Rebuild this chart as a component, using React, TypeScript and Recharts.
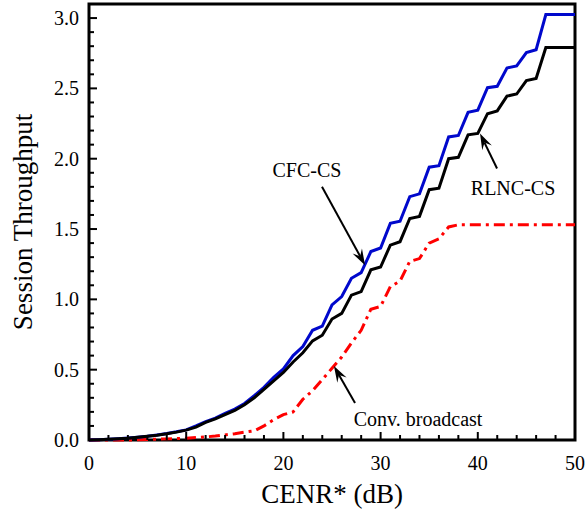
import { LineChart, Line, XAxis, YAxis, ReferenceArea, ReferenceLine } from 'recharts';

const FONT = '"Liberation Serif", "Times New Roman", serif';

// CENR* in dB, one sample per dB
const cenr = [
  0, 1, 2, 3, 4, 5, 6, 7, 8, 9, 10, 11, 12, 13, 14, 15, 16, 17, 18, 19, 20, 21, 22, 23, 24, 25,
  26, 27, 28, 29, 30, 31, 32, 33, 34, 35, 36, 37, 38, 39, 40, 41, 42, 43, 44, 45, 46, 47, 48, 49, 50,
];

const cfcCs = [
  0, 0.002, 0.005, 0.009, 0.014, 0.02, 0.027, 0.036, 0.046, 0.058, 0.072, 0.1, 0.13, 0.155, 0.19,
  0.22, 0.26, 0.315, 0.375, 0.445, 0.505, 0.6, 0.665, 0.78, 0.81, 0.96, 1.02, 1.15, 1.19, 1.34,
  1.365, 1.54, 1.555, 1.73, 1.75, 1.94, 1.95, 2.155, 2.165, 2.33, 2.345, 2.505, 2.515, 2.645, 2.66,
  2.755, 2.775, 3.025, 3.025, 3.025, 3.025,
];

const rlncCs = [
  0, 0.002, 0.005, 0.009, 0.013, 0.019, 0.026, 0.034, 0.044, 0.056, 0.07, 0.092, 0.125, 0.15, 0.18,
  0.21, 0.25, 0.3, 0.36, 0.42, 0.48, 0.555, 0.62, 0.705, 0.745, 0.86, 0.9, 1.03, 1.055, 1.21, 1.23,
  1.385, 1.41, 1.575, 1.59, 1.78, 1.79, 2.0, 2.01, 2.17, 2.18, 2.32, 2.34, 2.445, 2.46, 2.555, 2.57,
  2.79, 2.79, 2.79, 2.79,
];

const convBroadcast = [
  0, 0, 0, 0, 0, 0.002, 0.004, 0.006, 0.008, 0.01, 0.013, 0.017, 0.022, 0.028, 0.036, 0.045, 0.056,
  0.065, 0.1, 0.145, 0.18, 0.2, 0.29, 0.35, 0.43, 0.51, 0.59, 0.69, 0.78, 0.93, 0.95, 1.09, 1.13,
  1.27, 1.29, 1.4, 1.43, 1.515, 1.53, 1.53, 1.53, 1.53, 1.53, 1.53, 1.53, 1.53, 1.53, 1.53, 1.53,
  1.53, 1.53,
];

const xTicks = [0, 2, 4, 6, 8, 10, 12, 14, 16, 18, 20, 22, 24, 26, 28, 30, 32, 34, 36, 38, 40, 42, 44, 46, 48, 50];
const xLabels = [0, 10, 20, 30, 40, 50];
const yTicks = [
  0, 0.1, 0.2, 0.3, 0.4, 0.5, 0.6, 0.7, 0.8, 0.9, 1, 1.1, 1.2, 1.3, 1.4, 1.5, 1.6, 1.7, 1.8, 1.9, 2,
  2.1, 2.2, 2.3, 2.4, 2.5, 2.6, 2.7, 2.8, 2.9, 3,
];
const yLabels = [0, 0.5, 1, 1.5, 2, 2.5, 3];

const data = cenr.map((x, i) => ({
  x,
  cfc: cfcCs[i],
  rlnc: rlncCs[i],
  conv: convBroadcast[i],
}));

// arrows point from the label towards its curve; text is offset from the arrow's tail
const annotations = [
  { text: 'CFC-CS', from: { x: 23.97, y: 1.8 }, to: { x: 28.4, y: 1.243 }, dx: -15, dy: -10 },
  { text: 'RLNC-CS', from: { x: 41.98, y: 1.93 }, to: { x: 40.23, y: 2.18 }, dx: 16, dy: 26 },
  { text: 'Conv. broadcast', from: { x: 27.37, y: 0.263 }, to: { x: 25.2, y: 0.526 }, dx: 63, dy: 23 },
];

function XTick({ x, y, payload }: any) {
  const major = xLabels.includes(payload.value);
  return (
    <g>
      <line x1={x} y1={y} x2={x} y2={y - (major ? 8 : 5)} stroke="#000" strokeWidth={2} />
      {major && (
        <text x={x} y={y + 30} textAnchor="middle" fontFamily={FONT} fontSize={20} fill="#000">
          {payload.value}
        </text>
      )}
    </g>
  );
}

function YTickLeft({ x, y, payload }: any) {
  const major = yLabels.includes(payload.value);
  return (
    <g>
      <line x1={x} y1={y} x2={x + (major ? 8 : 5)} y2={y} stroke="#000" strokeWidth={2} />
      {major && (
        <text x={x - 10} y={y + 7} textAnchor="end" fontFamily={FONT} fontSize={20} fill="#000">
          {payload.value.toFixed(1)}
        </text>
      )}
    </g>
  );
}

function YTickRight({ x, y, payload }: any) {
  const major = yLabels.includes(payload.value);
  return <line x1={x} y1={y} x2={x - (major ? 8 : 5)} y2={y} stroke="#000" strokeWidth={2} />;
}

function Arrow({ x1, y1, x2, y2, text, dx, dy }: any) {
  const a = Math.atan2(y2 - y1, x2 - x1);
  const len = 17;
  const spread = 0.32;
  const w1x = x2 - len * Math.cos(a - spread);
  const w1y = y2 - len * Math.sin(a - spread);
  const w2x = x2 - len * Math.cos(a + spread);
  const w2y = y2 - len * Math.sin(a + spread);
  const nx = x2 - len * 0.6 * Math.cos(a);
  const ny = y2 - len * 0.6 * Math.sin(a);
  return (
    <g>
      <line x1={x1} y1={y1} x2={nx} y2={ny} stroke="#000" strokeWidth={2} />
      <polygon points={`${x2},${y2} ${w1x},${w1y} ${nx},${ny} ${w2x},${w2y}`} fill="#000" />
      <text x={x1 + dx} y={y1 + dy} textAnchor="middle" fontFamily={FONT} fontSize={20} fill="#000">
        {text}
      </text>
    </g>
  );
}

export default function App() {
  return (
    <div style={{ position: 'absolute', left: 0, top: 0 }}>
      <LineChart width={585} height={510} data={data} margin={{ top: 4, right: 0, bottom: 0, left: 0 }}>
        <XAxis
          dataKey="x"
          type="number"
          domain={[0, 50]}
          ticks={xTicks}
          interval={0}
          height={70}
          axisLine={false}
          tickLine={false}
          tickSize={0}
          tickMargin={0}
          tick={<XTick />}
          label={{
            content: () => (
              <text x={332} y={503} textAnchor="middle" fontFamily={FONT} fontSize={27} fill="#000">
                CENR* (dB)
              </text>
            ),
          }}
        />
        <YAxis
          type="number"
          domain={[0, 3.1]}
          ticks={yTicks}
          interval={0}
          width={89}
          axisLine={false}
          tickLine={false}
          tickSize={0}
          tickMargin={0}
          tick={<YTickLeft />}
          label={{
            content: () => (
              <text
                x={32}
                y={222}
                textAnchor="middle"
                transform="rotate(-90, 32, 222)"
                fontFamily={FONT}
                fontSize={27}
                fill="#000"
              >
                Session Throughput
              </text>
            ),
          }}
        />
        <YAxis
          yAxisId="right"
          orientation="right"
          type="number"
          domain={[0, 3.1]}
          ticks={yTicks}
          interval={0}
          width={10}
          axisLine={false}
          tickLine={false}
          tickSize={0}
          tickMargin={0}
          tick={<YTickRight />}
        />
        <Line
          type="linear"
          dataKey="conv"
          stroke="#ff0000"
          strokeWidth={3}
          strokeDasharray="11 5 3 5"
          dot={false}
          isAnimationActive={false}
        />
        <Line type="linear" dataKey="cfc" stroke="#0008cc" strokeWidth={3} dot={false} isAnimationActive={false} />
        <Line type="linear" dataKey="rlnc" stroke="#000000" strokeWidth={3} dot={false} isAnimationActive={false} />
        <ReferenceArea x1={0} x2={50} y1={0} y2={3.1} fill="none" stroke="#000" strokeWidth={3} fillOpacity={0} />
        {annotations.map((a) => (
          <ReferenceLine
            key={a.text}
            segment={[a.from, a.to]}
            shape={(p: any) => <Arrow {...p} text={a.text} dx={a.dx} dy={a.dy} />}
          />
        ))}
      </LineChart>
    </div>
  );
}
